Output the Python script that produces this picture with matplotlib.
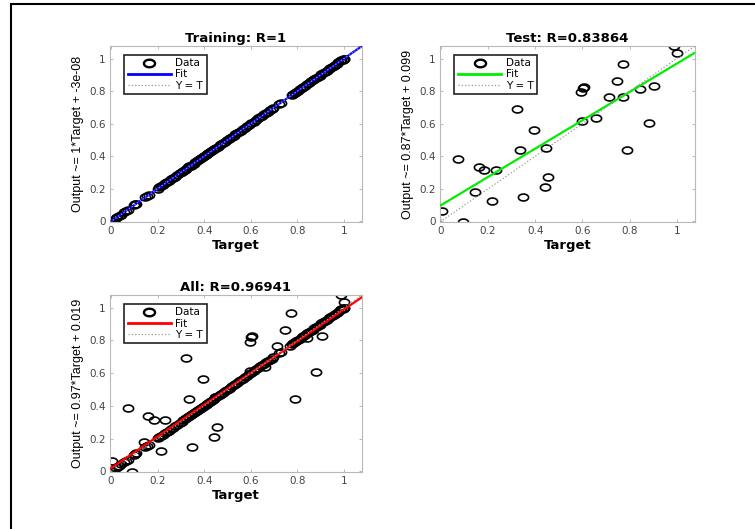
import numpy as np
import matplotlib
matplotlib.use("Agg")
import matplotlib.pyplot as plt
from matplotlib.path import Path
from matplotlib.patches import Rectangle
from matplotlib.lines import Line2D

# training set: targets and network outputs (R = 1, points sit on Y = T)
train_target = [0.000, 0.021, 0.028, 0.035, 0.042, 0.058, 0.066, 0.072, 0.098, 0.104,
                0.109, 0.148, 0.156, 0.162, 0.201, 0.208, 0.216, 0.224, 0.233, 0.241,
                0.249, 0.258, 0.266, 0.274, 0.283, 0.297, 0.304, 0.311, 0.318, 0.324,
                0.331, 0.337, 0.343, 0.349, 0.355, 0.362, 0.368, 0.374, 0.381, 0.387,
                0.393, 0.399, 0.406, 0.412, 0.418, 0.425, 0.431, 0.437, 0.444, 0.451,
                0.458, 0.466, 0.473, 0.481, 0.489, 0.497, 0.505, 0.512, 0.519, 0.527,
                0.534, 0.541, 0.549, 0.557, 0.566, 0.574, 0.583, 0.592, 0.601, 0.612,
                0.624, 0.633, 0.641, 0.649, 0.657, 0.665, 0.673, 0.681, 0.689, 0.697,
                0.721, 0.729, 0.776, 0.783, 0.789, 0.796, 0.803, 0.811, 0.818, 0.826,
                0.834, 0.842, 0.851, 0.859, 0.866, 0.873, 0.881, 0.888, 0.895, 0.903,
                0.911, 0.918, 0.926, 0.934, 0.941, 0.948, 0.955, 0.962, 0.969, 0.976,
                0.983, 0.989, 0.994, 0.998, 1.000]
train_output = [0.000, 0.021, 0.028, 0.035, 0.042, 0.058, 0.066, 0.072, 0.098, 0.104,
                0.109, 0.148, 0.156, 0.162, 0.201, 0.208, 0.216, 0.224, 0.233, 0.241,
                0.249, 0.258, 0.266, 0.274, 0.283, 0.297, 0.304, 0.311, 0.318, 0.324,
                0.331, 0.337, 0.343, 0.349, 0.355, 0.362, 0.368, 0.374, 0.381, 0.387,
                0.393, 0.399, 0.406, 0.412, 0.418, 0.425, 0.431, 0.437, 0.444, 0.451,
                0.458, 0.466, 0.473, 0.481, 0.489, 0.497, 0.505, 0.512, 0.519, 0.527,
                0.534, 0.541, 0.549, 0.557, 0.566, 0.574, 0.583, 0.592, 0.601, 0.612,
                0.624, 0.633, 0.641, 0.649, 0.657, 0.665, 0.673, 0.681, 0.689, 0.697,
                0.721, 0.729, 0.776, 0.783, 0.789, 0.796, 0.803, 0.811, 0.818, 0.826,
                0.834, 0.842, 0.851, 0.859, 0.866, 0.873, 0.881, 0.888, 0.895, 0.903,
                0.911, 0.918, 0.926, 0.934, 0.941, 0.948, 0.955, 0.962, 0.969, 0.976,
                0.983, 0.989, 0.994, 0.998, 1.000]

# test set
test_target = [0.003, 0.092, 0.074, 0.143, 0.160, 0.184, 0.233, 0.215, 0.322, 0.337,
               0.347, 0.395, 0.447, 0.454, 0.440, 0.595, 0.601, 0.607, 0.597, 0.659,
               0.711, 0.745, 0.770, 0.771, 0.788, 0.842, 0.881, 0.904, 0.986, 1.001]
test_output = [0.065, -0.004, 0.384, 0.178, 0.335, 0.316, 0.314, 0.127, 0.690, 0.441,
               0.147, 0.561, 0.451, 0.273, 0.212, 0.792, 0.822, 0.827, 0.614, 0.637,
               0.763, 0.863, 0.765, 0.969, 0.439, 0.812, 0.604, 0.829, 1.078, 1.037]

# fit coefficients (slope, intercept) as printed on the axis labels
train_fit = (1.0, -3e-08)
test_fit = (0.87, 0.099)
all_fit = (0.97, 0.019)

titles = ["Training: R=1", "Test: R=0.83864", "All: R=0.96941"]
ylabels = ["Output ~= 1*Target + -3e-08",
           "Output ~= 0.87*Target + 0.099",
           "Output ~= 0.97*Target + 0.019"]
fit_colors = ["#0000ff", "#00ee00", "#ff0000"]

all_target = train_target + test_target
all_output = train_output + test_output

# slightly flattened circle, like the stretched MATLAB markers
t = np.linspace(0, 2 * np.pi, 60)
ellipse = Path(np.column_stack([np.cos(t), 0.68 * np.sin(t)]), closed=True)

fig = plt.figure(figsize=(7.55, 5.29), dpi=100)

W, H = 755.0, 529.0
boxes = [(110, 46, 362, 222), (440, 46, 695, 222), (110, 295, 362, 472)]
datasets = [(train_target, train_output, train_fit),
            (test_target, test_output, test_fit),
            (all_target, all_output, all_fit)]

lims = (-0.004, 1.077)
tick_font = {"family": "DejaVu Sans", "size": 7.5}

for i, (box, (tx, ty, fit)) in enumerate(zip(boxes, datasets)):
    x0, y0, x1, y1 = box
    ax = fig.add_axes([x0 / W, 1 - y1 / H, (x1 - x0) / W, (y1 - y0) / H])
    ax.set_xlim(lims)
    ax.set_ylim(lims)

    ax.plot(tx, ty, linestyle="none", marker=ellipse, markersize=7.3,
            markerfacecolor="none", markeredgecolor="black", markeredgewidth=1.2,
            zorder=2)
    xx = np.array(lims)
    ax.plot(xx, fit[0] * xx + fit[1], color=fit_colors[i], lw=1.6, zorder=3)
    ax.plot(xx, xx, color="#999999", lw=0.9, linestyle=":", zorder=4)

    ax.set_xticks([0, 0.2, 0.4, 0.6, 0.8, 1])
    ax.set_yticks([0, 0.2, 0.4, 0.6, 0.8, 1])
    ax.set_xticklabels(["0", "0.2", "0.4", "0.6", "0.8", "1"], **tick_font)
    ax.set_yticklabels(["0", "0.2", "0.4", "0.6", "0.8", "1"], **tick_font)
    ax.tick_params(direction="in", length=2.5, width=0.6, colors="#b0b0b0",
                   labelcolor="#444444", top=True, right=True, pad=3)
    for s in ax.spines.values():
        s.set_color("#b8b8b8")
        s.set_linewidth(0.8)

    ax.set_title(titles[i], family="DejaVu Sans", fontsize=9.5,
                 fontweight="bold", pad=3)
    ax.set_xlabel("Target", family="DejaVu Sans", fontsize=9.5,
                  fontweight="bold", labelpad=2)
    ax.set_ylabel(ylabels[i], family="Liberation Sans", fontsize=9, labelpad=4)

    handles = [
        Line2D([], [], linestyle="none", marker=ellipse, markersize=8,
               markerfacecolor="none", markeredgecolor="black", markeredgewidth=1.7),
        Line2D([], [], color=fit_colors[i], lw=2),
        Line2D([], [], color="#999999", lw=0.9, linestyle=":"),
    ]
    leg = ax.legend(handles, ["Data", "Fit", "Y = T"], loc="upper left",
                    bbox_to_anchor=(0.055, 0.95), borderaxespad=0,
                    prop={"family": "DejaVu Sans", "size": 7.5},
                    handlelength=4.2, handletextpad=0.4, borderpad=0.35,
                    labelspacing=0.1, fancybox=False, framealpha=1)
    leg.get_frame().set_edgecolor("#222222")
    leg.get_frame().set_linewidth(1.2)

# outer frame, cropped on the right and bottom
fig.patches.append(Rectangle((11 / W, -0.2), 1.5, 1.2 - 4.3 / H,
                             transform=fig.transFigure, fill=False,
                             edgecolor="black", linewidth=1.5))

fig.savefig("out.png", dpi=100)
